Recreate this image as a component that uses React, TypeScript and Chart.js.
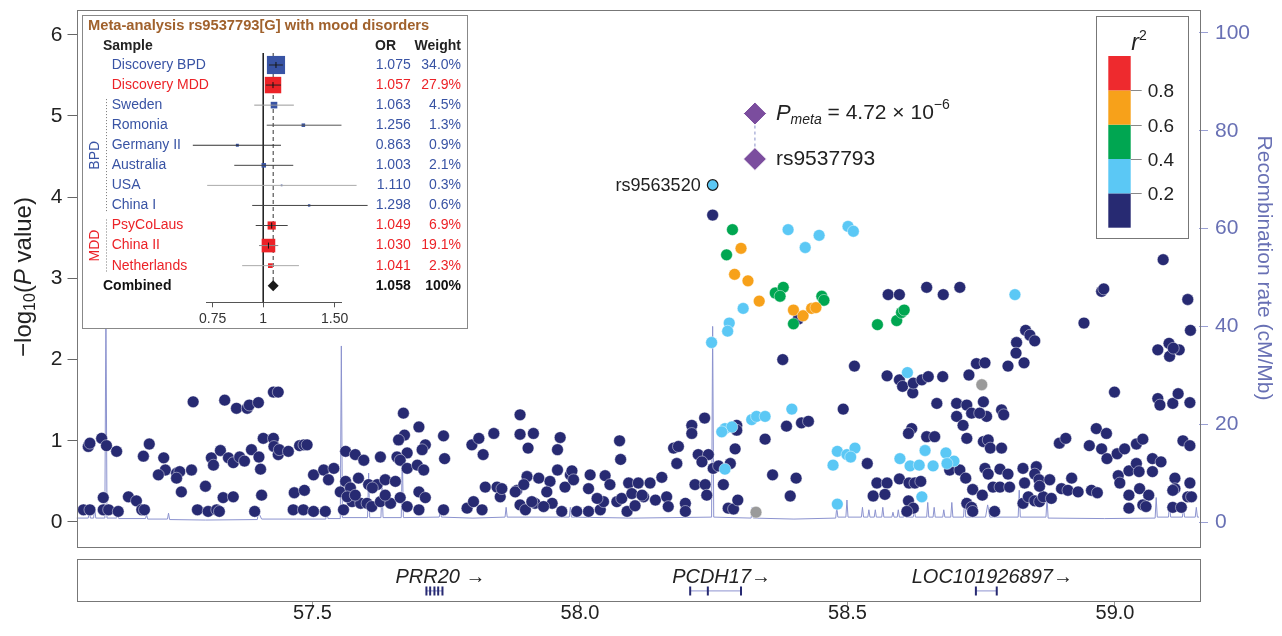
import React, { useEffect, useRef } from 'react';
import { Chart, registerables } from 'chart.js';
Chart.register(...registerables);

const FONT = "'Liberation Sans', Arial, Helvetica, sans-serif";
Chart.defaults.font.family = FONT;

// ---------- colours ----------
const NAVY = '#272a72', LBLUE = '#5bc8f5', GREEN = '#00a651', ORANGE = '#f7a11a', RED = '#ee2a2e', GRAY = '#9a9a9a', PURPLE = '#7b4d9e';
const RECOMB = '#8c93cf', RAXIS = '#6870b4';
const BPDC = '#3853a4', MDDC = '#ec2227';

// ---------- axes ----------
const XMIN = 57.059, XMAX = 59.157;
const leftTicks = [0, 1, 2, 3, 4, 5, 6];
const rightTicks = [0, 20, 40, 60, 80, 100];
const posTicks = [57.5, 58.0, 58.5, 59.0];

// ---------- association results: [position (Mb), -log10 P] ----------
const navyWest = [
  [57.072,0.15],[57.084,0.15],[57.109,0.15],[57.119,0.15],[57.137,0.13],
  [57.081,0.93],[57.084,0.97],[57.106,1.03],[57.115,0.94],[57.134,0.87],
  [57.109,0.30],[57.156,0.31],[57.171,0.26],[57.181,0.15],[57.186,0.15],
  [57.195,0.96],[57.184,0.81],[57.222,0.79],[57.225,0.64],[57.212,0.58],
  [57.246,0.60],[57.252,0.62],[57.246,0.54],[57.274,0.64],[57.255,0.37],
  [57.277,1.48],[57.285,0.15],[57.305,0.13],[57.321,0.15],[57.326,0.13],
  [57.300,0.44],[57.311,0.79],[57.315,0.70],[57.328,0.88],[57.343,0.79],
  [57.352,0.73],[57.364,0.80],[57.373,0.75],[57.386,0.89],[57.400,0.80],
  [57.403,0.65],[57.333,0.30],[57.352,0.31],[57.336,1.50],[57.358,1.40],
  [57.378,1.40],[57.382,1.44],[57.399,1.47],[57.427,1.60],[57.436,1.60],
  [57.392,0.13],[57.405,0.33],[57.408,1.03],[57.427,1.03],[57.428,0.93],
  [57.436,0.83],[57.438,0.89],[57.455,0.87],[57.476,0.94],[57.466,0.36],
  [57.464,0.15],[57.483,0.15],[57.485,0.39],
  [57.484,0.95],[57.490,0.95],[57.502,0.13],[57.524,0.13],[57.502,0.58],
  [57.521,0.64],[57.530,0.52],[57.540,0.66],[57.562,0.87],[57.580,0.83],
  [57.596,0.76],[57.627,0.80],[57.552,0.37],[57.562,0.50],[57.571,0.42],
  [57.586,0.54],[57.605,0.46],[57.621,0.46],[57.636,0.52],[57.655,0.50],
  [57.558,0.15],[57.574,0.25],[57.590,0.23],[57.602,0.23],[57.611,0.19],
  [57.627,0.25],[57.646,0.23],[57.664,0.30],[57.677,0.19],[57.699,0.37],
  [57.711,0.30],[57.699,0.15],[57.565,0.31],[57.580,0.33],[57.636,0.33],[57.612,0.42],
  [57.670,1.34],[57.672,1.07],[57.661,1.01],[57.699,1.17],[57.711,0.95],
  [57.705,0.89],[57.677,0.85],[57.658,0.80],[57.664,0.76],[57.677,0.66],
  [57.696,0.70],[57.708,0.64],[57.745,1.06],[57.747,0.78],[57.745,0.15],
];
const navyMid = [
  [57.798,0.95],[57.811,1.03],[57.819,0.83],[57.839,1.09],[57.789,0.17],
  [57.801,0.25],[57.823,0.43],[57.845,0.43],[57.851,0.31],[57.817,0.15],
  [57.888,1.32],[57.888,1.08],[57.903,0.91],[57.882,0.39],[57.888,0.21],
  [57.901,0.56],[57.898,0.15],[57.913,1.09],[57.963,1.04],[57.958,0.89],
  [58.074,1.00],[58.076,0.77],[57.958,0.64],[57.982,0.58],[57.985,0.63],
  [57.972,0.43],[57.988,0.52],[58.019,0.58],[58.047,0.57],[58.056,0.46],
  [58.016,0.41],[58.091,0.48],[58.109,0.48],[58.131,0.48],[58.153,0.55],
  [57.923,0.54],[57.944,0.50],[57.938,0.37],[57.879,0.37],[57.895,0.46],
  [57.854,0.41],[57.916,0.23],[57.948,0.23],[57.966,0.13],[57.994,0.13],
  [58.016,0.13],[58.038,0.15],[58.044,0.25],[58.069,0.25],[58.088,0.13],
  [58.103,0.20],[58.119,0.31],[58.141,0.27],[58.162,0.31],[58.165,0.19],
  [58.197,0.23],[58.197,0.13],
  [57.910,0.25],[57.932,0.19],[58.032,0.29],[58.078,0.29],[58.097,0.35],[58.116,0.33],
  [58.181,0.72],[58.175,0.91],[58.184,0.93],[58.209,1.19],[58.209,1.09],
  [58.233,1.28],[58.221,0.83],[58.240,0.83],[58.228,0.74],[58.249,0.66],
  [58.259,0.69],[58.215,0.46],[58.234,0.46],[58.237,0.33],[58.268,0.46],
  [58.277,0.17],[58.287,0.16],[58.295,0.27],[58.293,1.19],[58.293,1.13],
  [58.290,0.90],[58.281,0.72],[58.248,3.78],[58.379,2.00],[58.492,1.39],
  [58.386,1.18],[58.414,1.22],[58.427,1.24],[58.346,1.02],[58.360,0.58],
  [58.404,0.54],[58.393,0.32],[58.408,2.50],
];
const navyEast = [
  [58.576,2.80],[58.597,2.80],[58.648,2.89],[58.679,2.80],[58.710,2.89],
  [58.513,1.92],[58.574,1.80],[58.597,1.75],[58.603,1.67],[58.622,1.59],
  [58.623,1.71],[58.639,1.75],[58.651,1.79],[58.678,1.79],[58.727,1.81],
  [58.741,1.95],[58.667,1.46],[58.704,1.46],[58.723,1.44],[58.732,1.34],
  [58.704,1.30],[58.716,1.19],[58.723,1.03],[58.620,1.15],[58.614,1.09],
  [58.648,1.05],[58.663,1.05],[58.537,0.72],[58.691,0.64],[58.710,0.64],
  [58.721,0.54],[58.734,0.40],[58.555,0.48],[58.574,0.48],[58.597,0.53],
  [58.615,0.48],[58.626,0.48],[58.637,0.50],[58.548,0.32],[58.570,0.34],
  [58.614,0.26],[58.623,0.17],[58.611,0.13],[58.723,0.23],[58.732,0.18],
  [58.752,0.33],[58.734,0.13],[58.775,0.13],[58.772,0.43],[58.785,0.43],
  [58.803,0.43],[58.828,0.23],[58.838,0.31],[58.850,0.26],[58.859,0.25],
  [58.866,0.31],[58.881,0.29],
  [59.090,3.23],[58.975,2.84],[58.979,2.87],[59.136,2.74],[58.942,2.45],
  [59.141,2.36],[58.833,2.36],[58.841,2.30],[58.850,2.23],[58.816,2.21],
  [58.815,2.08],[58.800,1.92],[58.830,1.96],[58.757,1.96],[59.080,2.12],
  [59.101,2.20],[59.120,2.12],[59.102,2.04],[59.109,2.14],[58.999,1.60],
  [59.080,1.52],[59.084,1.44],[59.108,1.46],[59.118,1.58],[59.140,1.47],
  [58.754,1.48],[58.760,1.30],[58.788,1.38],[58.792,1.32],[58.747,1.34],
  [58.965,1.15],[58.984,1.09],[58.896,0.97],[58.908,1.03],[58.952,0.94],
  [58.975,0.90],[58.985,0.78],[59.004,0.84],[59.018,0.90],[59.040,0.96],
  [59.052,1.02],[59.127,1.00],[59.140,0.94],[59.070,0.78],[59.086,0.74],
  [58.754,0.99],[58.763,1.01],[58.767,0.91],[58.788,0.91],[58.757,0.66],
  [58.763,0.59],[58.785,0.65],[58.800,0.59],[58.828,0.66],[58.853,0.68],
  [58.850,0.59],[58.919,0.54],[58.831,0.48],[58.858,0.52],[58.878,0.52],
  [58.900,0.41],[58.859,0.44],[59.006,0.57],[59.009,0.48],[59.026,0.63],
  [59.040,0.72],[59.045,0.62],[59.070,0.62],[59.112,0.54],[59.112,0.41],
  [59.140,0.48],[59.136,0.31],[58.912,0.39],[58.931,0.37],[58.956,0.39],
  [58.967,0.36],[59.026,0.33],[59.046,0.41],[59.063,0.33],[59.108,0.39],
  [59.026,0.17],[59.052,0.21],[59.058,0.19],[59.108,0.18],[59.124,0.18],[59.143,0.31],
];
const lightBlueSnps = [
  [58.246,2.21],[58.279,2.45],[58.276,2.35],[58.305,2.63],[58.389,3.60],
  [58.447,3.53],[58.421,3.38],[58.501,3.64],[58.511,3.58],[58.271,1.15],
  [58.284,1.17],[58.265,1.11],[58.271,0.65],[58.321,1.26],[58.330,1.30],
  [58.346,1.30],[58.396,1.39],[58.481,0.87],[58.499,0.83],[58.473,0.70],
  [58.481,0.22],[58.514,0.91],[58.506,0.80],[58.612,1.84],[58.598,0.78],
  [58.645,0.88],[58.684,0.85],[58.699,0.75],[58.617,0.69],[58.634,0.70],
  [58.660,0.69],[58.686,0.72],[58.639,0.31],[58.813,2.80],
];
const greenSnps = [
  [58.285,3.60],[58.274,3.29],[58.365,2.82],[58.380,2.89],[58.374,2.78],
  [58.452,2.78],[58.456,2.73],[58.399,2.44],[58.556,2.43],[58.592,2.48],
  [58.601,2.58],[58.606,2.61],
];
const orangeSnps = [
  [58.301,3.37],[58.289,3.05],[58.314,2.97],[58.335,2.72],[58.399,2.61],
  [58.417,2.54],[58.433,2.63],[58.441,2.64],
];
const graySnps = [[58.329,0.12],[58.751,1.69]];
const labelledSnp = { name: 'rs9563520', pos: 58.248, logp: 4.15 };
const leadSnp = { name: 'rs9537793', pos: 58.327, discoveryLogp: 4.47, metaLogp: 5.03 };

// ---------- recombination rate: [position (Mb), cM/Mb] ----------
const recombWest = [
  [57.059,0.8],[57.081,0.8],[57.083,2.5],[57.085,0.8],[57.091,0.8],[57.093,3.0],[57.095,0.8],
  [57.112,0.8],[57.114,45],[57.116,0.8],[57.134,0.8],[57.136,2.0],[57.138,0.7],[57.188,0.7],
  [57.190,1.5],[57.192,0.6],[57.229,0.6],[57.231,1.8],[57.233,0.5],[57.300,0.4],[57.397,0.5],
  [57.399,2.0],[57.405,0.6],[57.470,0.6],[57.525,0.6],[57.527,2.5],[57.529,0.7],[57.552,0.7],
  [57.554,36],[57.556,0.9],[57.603,0.9],[57.605,10],[57.607,0.9],[57.628,0.9],[57.630,7],
  [57.632,0.9],[57.666,0.9],[57.668,14],[57.670,0.9],[57.737,1.0],[57.739,2.5],[57.741,1.0],
  [57.800,0.8],[57.860,1.0],[57.862,3.0],[57.864,1.0],[57.980,1.0],[57.982,3.0],[57.984,1.0],
  [58.100,0.8],[58.246,1.0],[58.248,40],[58.250,1.0],[58.320,0.8],[58.322,3.0],[58.324,0.8],
];
const recombEast = [
  [58.400,0.6],[58.478,0.8],[58.480,3.0],[58.482,1.0],[58.497,1.0],[58.499,4.5],[58.501,1.0],
  [58.526,1.0],[58.528,3.0],[58.530,1.0],[58.538,1.0],[58.540,2.5],[58.542,1.0],[58.550,1.0],
  [58.552,2.5],[58.554,1.0],[58.564,1.0],[58.566,3.0],[58.568,1.0],[58.583,1.0],[58.585,2.0],
  [58.587,1.0],[58.593,1.0],[58.595,2.5],[58.597,1.0],[58.605,1.0],[58.607,3.0],[58.609,1.0],
  [58.623,1.0],[58.625,2.5],[58.627,1.0],[58.648,1.0],[58.650,4.0],[58.652,1.0],[58.660,1.0],
  [58.662,3.0],[58.664,1.0],[58.678,1.0],[58.680,2.5],[58.682,1.0],[58.693,1.0],[58.695,4.0],
  [58.697,1.0],[58.717,1.0],[58.719,5.0],[58.721,1.0],[58.758,1.0],[58.762,3.5],[58.766,1.0],
  [58.819,1.0],[58.821,6.5],[58.823,1.0],[58.871,1.0],[58.873,5.0],[58.875,0.8],[58.980,0.7],
  [59.075,0.8],[59.077,5.0],[59.079,1.0],[59.100,1.0],[59.102,4.0],[59.104,1.0],[59.126,1.0],
  [59.128,3.0],[59.130,1.0],[59.150,1.0],[59.152,3.0],[59.154,1.0],[59.157,1.0],
];

// ---------- r2 legend ----------
const r2Colors = [NAVY, LBLUE, GREEN, ORANGE, RED];
const r2Labels = ['0.2', '0.4', '0.6', '0.8'];

// ---------- genes ----------
const geneNames = ['PRR20', 'PCDH17', 'LOC101926897'];
const geneLabels = ['PRR20 \u2192', 'PCDH17\u2192', 'LOC101926897\u2192'];
const geneStart = [57.713, 58.206, 58.740];
const geneEnd = [57.743, 58.301, 58.779];
const exonPos = [57.713, 57.720, 57.728, 57.735, 57.743, 58.206, 58.239, 58.301, 58.740, 58.779];

// ---------- forest plot ----------
const forestStudies = ['Discovery BPD','Discovery MDD','Sweden','Romonia','Germany II','Australia','USA','China I','PsyCoLaus','China II','Netherlands'];
const forestGroup = ['BPD','MDD','BPD','BPD','BPD','BPD','BPD','BPD','MDD','MDD','MDD'];
const forestOR = [1.075,1.057,1.063,1.256,0.863,1.003,1.110,1.298,1.049,1.030,1.041];
const forestWeight = [34.0,27.9,4.5,1.3,0.9,2.1,0.3,0.6,6.9,19.1,2.3];
const forestLo = [1.033,1.015,0.950,1.020,0.670,0.848,0.727,0.939,0.958,0.976,0.887];
const forestHi = [1.118,1.106,1.190,1.560,1.106,1.186,1.700,1.810,1.149,1.089,1.225];
const combinedOR = 1.058;
const combinedWeight = 100;
const forestTicks = [0.75, 1, 1.5];
const forestTickLabels = ['0.75', '1', '1.50'];
const ciColors = ['#222','#222','#9a9a9a','#555','#333','#444','#aaa','#444','#444','#888','#aaa'];

const toXY = (a: number[][]) => a.map(([x, y]) => ({ x, y }));

function drawRich(ctx: CanvasRenderingContext2D, segs: any[], x: number, y: number, align: string) {
  let total = 0;
  segs.forEach((s) => { ctx.font = s.font; total += ctx.measureText(s.t).width; });
  let cx = align === 'center' ? x - total / 2 : align === 'right' ? x - total : x;
  ctx.textAlign = 'left';
  ctx.textBaseline = 'middle';
  segs.forEach((s) => { ctx.font = s.font; ctx.fillStyle = s.color || ctx.fillStyle; ctx.fillText(s.t, cx, y + (s.dy || 0)); cx += ctx.measureText(s.t).width; });
}

function makeMain(canvas: HTMLCanvasElement) {
  const dot = (data: any[], color: string, order: number) => ({
    data: toXY(data), backgroundColor: color, borderColor: 'rgba(255,255,255,0.75)', borderWidth: 0.6,
    pointRadius: 5.9, order,
  });
  const mainPlugin = {
    id: 'mainDecor',
    afterDraw(chart: any) {
      const { ctx, chartArea: a, scales } = chart;
      const xs = scales.x, ys = scales.y;
      ctx.save();
      ctx.strokeStyle = '#777'; ctx.lineWidth = 1;
      ctx.strokeRect(Math.round(a.left) + 0.5, Math.round(a.top) + 0.5, Math.round(a.right - a.left), Math.round(a.bottom - a.top));
      ctx.save();
      ctx.translate(24, 277); ctx.rotate(-Math.PI / 2);
      ctx.fillStyle = '#222';
      drawRich(ctx, [
        { t: '\u2212log', font: `24px ${FONT}` },
        { t: '10', font: `16px ${FONT}`, dy: 7 },
        { t: '(', font: `24px ${FONT}` },
        { t: 'P', font: `italic 24px ${FONT}` },
        { t: ' value)', font: `24px ${FONT}` },
      ], 0, 0, 'center');
      ctx.restore();
      ctx.save();
      ctx.translate(1264, 268); ctx.rotate(Math.PI / 2);
      ctx.fillStyle = RAXIS;
      drawRich(ctx, [{ t: 'Recombination rate (cM/Mb)', font: `21px ${FONT}` }], 0, 0, 'center');
      ctx.restore();
      ctx.fillStyle = '#222';
      drawRich(ctx, [{ t: labelledSnp.name, font: `18px ${FONT}` }], xs.getPixelForValue(labelledSnp.pos) - 12, ys.getPixelForValue(labelledSnp.logp) + 1, 'right');
      const lx = xs.getPixelForValue(leadSnp.pos) + 21;
      drawRich(ctx, [
        { t: 'P', font: `italic 22px ${FONT}` },
        { t: 'meta', font: `italic 14px ${FONT}`, dy: 7 },
        { t: ' = 4.72 \u00d7 10', font: `21px ${FONT}` },
        { t: '\u22126', font: `14px ${FONT}`, dy: -8 },
      ], lx, ys.getPixelForValue(leadSnp.metaLogp), 'left');
      drawRich(ctx, [{ t: leadSnp.name, font: `21px ${FONT}` }], lx, ys.getPixelForValue(leadSnp.discoveryLogp), 'left');
      // r2 legend
      const bx = 1096, by = 16, bw = 92, bh = 222;
      ctx.fillStyle = '#fff'; ctx.fillRect(bx, by, bw, bh);
      ctx.strokeStyle = '#777'; ctx.strokeRect(bx + 0.5, by + 0.5, bw, bh);
      ctx.fillStyle = '#222';
      drawRich(ctx, [
        { t: 'r', font: `italic 23px ${FONT}` },
        { t: '2', font: `14px ${FONT}`, dy: -8 },
      ], 1139, 44, 'center');
      const barTop = 56, barBot = 227.7, barL = 1108.3, barR = 1130.7;
      const segH = (barBot - barTop) / r2Colors.length;
      r2Colors.forEach((c, i) => {
        ctx.fillStyle = c;
        ctx.fillRect(barL, barBot - (i + 1) * segH, barR - barL, segH);
      });
      ctx.strokeStyle = '#888'; ctx.lineWidth = 1;
      r2Labels.forEach((lab, i) => {
        const yy = Math.round(barBot - (i + 1) * segH) + 0.5;
        ctx.beginPath(); ctx.moveTo(barR, yy); ctx.lineTo(barR + 11, yy); ctx.stroke();
        ctx.fillStyle = '#222';
        drawRich(ctx, [{ t: lab, font: `19px ${FONT}` }], barR + 17, yy + 1, 'left');
      });
      ctx.restore();
    },
  };
  return new Chart(canvas, {
    type: 'scatter',
    data: {
      datasets: [
        { type: 'line', data: toXY([...recombWest, ...recombEast]), yAxisID: 'y2', borderColor: RECOMB, borderWidth: 1, pointRadius: 0, tension: 0, order: 10 },
        dot([...navyWest, ...navyMid, ...navyEast], NAVY, 7),
        dot(graySnps, GRAY, 6),
        dot(lightBlueSnps, LBLUE, 5),
        dot(greenSnps, GREEN, 4),
        dot(orangeSnps, ORANGE, 3),
        { data: [{ x: labelledSnp.pos, y: labelledSnp.logp }], backgroundColor: LBLUE, borderColor: '#1a1a1a', borderWidth: 1.2, pointRadius: 5.3, order: 2 },
        { type: 'line', data: [{ x: leadSnp.pos, y: leadSnp.metaLogp }, { x: leadSnp.pos, y: leadSnp.discoveryLogp }], borderColor: '#8890c8', borderDash: [3, 3], borderWidth: 1, pointRadius: 0, order: 2 },
        { data: [{ x: leadSnp.pos, y: leadSnp.metaLogp }, { x: leadSnp.pos, y: leadSnp.discoveryLogp }], pointStyle: 'rectRot', pointRadius: 11.5, backgroundColor: PURPLE, borderColor: '#fff', borderWidth: 1, order: 1 },
      ],
    },
    options: {
      animation: false, responsive: false, events: [],
      layout: { autoPadding: false, padding: { top: 10, bottom: 5.5, left: 0, right: 0 } },
      plugins: { legend: { display: false }, tooltip: { enabled: false } },
      scales: {
        x: { type: 'linear', min: XMIN, max: XMAX, display: false },
        y: {
          position: 'left', min: -0.302, max: 6.305,
          afterBuildTicks: (s: any) => { s.ticks = leftTicks.map((v) => ({ value: v })); },
          afterFit: (s: any) => { s.width = 76.5; s.paddingTop = 0; s.paddingBottom = 0; },
          ticks: { font: { family: FONT, size: 21, lineHeight: 0.4 }, color: '#222', padding: 5 },
          grid: { drawOnChartArea: false, tickLength: 9, color: '#666' },
          border: { display: false },
        },
        y2: {
          position: 'right', min: -5.01, max: 104.7,
          afterBuildTicks: (s: any) => { s.ticks = rightTicks.map((v) => ({ value: v })); },
          afterFit: (s: any) => { s.width = 83; s.paddingTop = 0; s.paddingBottom = 0; },
          ticks: { font: { family: FONT, size: 21, lineHeight: 0.4 }, color: RAXIS, padding: 7 },
          grid: { drawOnChartArea: false, tickLength: 9, color: '#9aa0d4' },
          border: { display: false },
        },
      },
    } as any,
    plugins: [mainPlugin],
  } as any);
}

function makeGene(canvas: HTMLCanvasElement) {
  const genePlugin = {
    id: 'geneDecor',
    afterDraw(chart: any) {
      const { ctx, chartArea: a, scales } = chart;
      ctx.save();
      ctx.strokeStyle = '#777'; ctx.lineWidth = 1;
      ctx.strokeRect(Math.round(a.left) + 0.5, Math.round(a.top) + 0.5, Math.round(a.right - a.left), Math.round(a.bottom - a.top));
      ctx.fillStyle = '#222';
      geneNames.forEach((_, i) => {
        const cx = scales.x.getPixelForValue((geneStart[i] + geneEnd[i]) / 2) + 6;
        drawRich(ctx, [{ t: geneLabels[i], font: `italic 20px ${FONT}` }], cx, 25, 'center');
      });
      ctx.restore();
    },
  };
  const geneY = 0.24;
  return new Chart(canvas, {
    type: 'scatter',
    data: {
      datasets: [
        ...geneNames.map((_, i) => ({
          type: 'line', data: [{ x: geneStart[i], y: geneY }, { x: geneEnd[i], y: geneY }],
          borderColor: '#a4a8da', borderWidth: 1.3, pointRadius: 0, order: 2,
        })),
        {
          data: exonPos.map((p) => ({ x: p, y: geneY })), pointStyle: 'line', pointRotation: 90,
          pointRadius: 4.5, borderColor: NAVY, backgroundColor: NAVY, borderWidth: 2, order: 1,
        },
      ],
    },
    options: {
      animation: false, responsive: false, events: [],
      layout: { autoPadding: false, padding: { top: 7, bottom: 0, left: 76.5, right: 83 } },
      plugins: { legend: { display: false }, tooltip: { enabled: false } },
      scales: {
        x: {
          type: 'linear', min: XMIN, max: XMAX,
          afterBuildTicks: (s: any) => { s.ticks = posTicks.map((v) => ({ value: v })); },
          afterFit: (s: any) => { s.height = 35; s.paddingLeft = 0; s.paddingRight = 0; },
          ticks: { font: { family: FONT, size: 20 }, color: '#222', padding: -6, callback: (v: number) => Number(v).toFixed(1), maxRotation: 0 },
          grid: { drawOnChartArea: false, tickLength: 6, color: '#999' },
          border: { display: false },
        },
        y: { min: 0, max: 1, display: false },
      },
    } as any,
    plugins: [genePlugin],
  } as any);
}

function makeForest(canvas: HTMLCanvasElement) {
  const W = 386, H = 314;
  const groupColor = (g: string) => (g === 'BPD' ? BPDC : MDDC);
  const forestPlugin = {
    id: 'forestDecor',
    beforeDraw(chart: any) {
      const { ctx } = chart;
      ctx.save();
      ctx.fillStyle = '#fff'; ctx.fillRect(0, 0, W, H);
      ctx.strokeStyle = '#888'; ctx.lineWidth = 1; ctx.strokeRect(0.5, 0.5, W - 1, H - 1);
      ctx.restore();
    },
    afterDraw(chart: any) {
      const { ctx, scales } = chart;
      const yp = (v: number) => scales.y.getPixelForValue(v);
      ctx.save();
      ctx.fillStyle = '#a0612c';
      drawRich(ctx, [{ t: 'Meta-analysis rs9537793[G] with mood disorders', font: `bold 14.7px ${FONT}` }], 6, 11, 'left');
      ctx.fillStyle = '#222';
      const hy = yp(-0.95);
      drawRich(ctx, [{ t: 'Sample', font: `bold 14px ${FONT}` }], 21, hy, 'left');
      drawRich(ctx, [{ t: 'OR', font: `bold 14px ${FONT}` }], 293, hy, 'left');
      drawRich(ctx, [{ t: 'Weight', font: `bold 14px ${FONT}` }], 379, hy, 'right');
      forestStudies.forEach((name, i) => {
        ctx.fillStyle = groupColor(forestGroup[i]);
        const y = yp(i);
        drawRich(ctx, [{ t: name, font: `14px ${FONT}` }], 29.7, y, 'left');
        drawRich(ctx, [{ t: forestOR[i].toFixed(3), font: `14px ${FONT}` }], 328.7, y, 'right');
        drawRich(ctx, [{ t: forestWeight[i].toFixed(1) + '%', font: `14px ${FONT}` }], 379, y, 'right');
      });
      const cy = yp(forestStudies.length);
      ctx.fillStyle = '#111';
      drawRich(ctx, [{ t: 'Combined', font: `bold 14px ${FONT}` }], 21, cy, 'left');
      drawRich(ctx, [{ t: combinedOR.toFixed(3), font: `bold 14px ${FONT}` }], 328.7, cy, 'right');
      drawRich(ctx, [{ t: combinedWeight + '%', font: `bold 14px ${FONT}` }], 379, cy, 'right');
      const groups = [
        { g: 'BPD', first: 2, last: 7 },
        { g: 'MDD', first: 8, last: 10 },
      ];
      groups.forEach(({ g, first, last }) => {
        ctx.strokeStyle = '#777'; ctx.lineWidth = 1; ctx.setLineDash([1, 2]);
        ctx.beginPath(); ctx.moveTo(24.5, yp(first - 0.3)); ctx.lineTo(24.5, yp(last + 0.3)); ctx.stroke();
        ctx.setLineDash([]);
        ctx.save();
        ctx.translate(13, (yp(first) + yp(last)) / 2); ctx.rotate(-Math.PI / 2);
        ctx.fillStyle = groupColor(g);
        drawRich(ctx, [{ t: g, font: `14px ${FONT}` }], 0, 0, 'center');
        ctx.restore();
      });
      ctx.restore();
    },
  };
  const YMIN = -0.598, YMAX = 11.827;
  const datasets: any[] = [
    { type: 'line', data: [{ x: 1, y: YMIN }, { x: 1, y: YMAX }], borderColor: '#222', borderWidth: 1, pointRadius: 0, order: 5 },
    { type: 'line', data: [{ x: combinedOR, y: YMIN }, { x: combinedOR, y: forestStudies.length + 0.2 }], borderColor: '#333', borderWidth: 1, borderDash: [4, 3], pointRadius: 0, order: 5 },
    {
      data: forestOR.map((v, i) => ({ x: v, y: i })), pointStyle: 'rect',
      pointRadius: (c: any) => 2.2 * Math.sqrt(forestWeight[c.dataIndex] || 0),
      backgroundColor: forestGroup.map(groupColor), borderWidth: 0, order: 3, clip: false,
    },
    ...forestStudies.map((_, i) => ({
      type: 'line', data: [{ x: forestLo[i], y: i }, { x: forestHi[i], y: i }],
      borderColor: ciColors[i], borderWidth: 1, pointRadius: 0, order: 2, clip: false,
    })),
    {
      data: forestOR.map((v, i) => ({ x: v, y: i })).filter((_, i) => forestWeight[i] > 5),
      pointStyle: 'line', pointRotation: 90, pointRadius: 3, borderColor: '#111', borderWidth: 1, order: 1,
    },
    { data: [{ x: combinedOR, y: forestStudies.length }], pointStyle: 'rectRot', pointRadius: 5.5, backgroundColor: '#1a1a1a', borderWidth: 0, order: 1 },
  ];
  return new Chart(canvas, {
    type: 'scatter',
    data: { datasets },
    options: {
      animation: false, responsive: false, events: [],
      layout: { autoPadding: false, padding: { top: 38, bottom: 0, left: 124.7, right: 126.3 } },
      plugins: { legend: { display: false }, tooltip: { enabled: false } },
      scales: {
        x: {
          type: 'logarithmic', min: 0.725, max: 1.562,
          afterBuildTicks: (s: any) => { s.ticks = forestTicks.map((v) => ({ value: v })); },
          afterFit: (s: any) => { s.height = 26.7; s.paddingLeft = 0; s.paddingRight = 0; },
          ticks: { font: { family: FONT, size: 14 }, color: '#333', padding: 3, autoSkip: false, maxRotation: 0, callback: (_v: any, idx: number) => forestTickLabels[idx] },
          grid: { drawOnChartArea: false, tickLength: 5, color: '#555' },
          border: { display: true, color: '#555' },
        },
        y: { type: 'linear', reverse: true, min: YMIN, max: YMAX, display: false },
      },
    } as any,
    plugins: [forestPlugin],
  } as any);
}

export default function App() {
  const mainRef = useRef<HTMLCanvasElement>(null);
  const geneRef = useRef<HTMLCanvasElement>(null);
  const forestRef = useRef<HTMLCanvasElement>(null);
  useEffect(() => {
    const charts = [
      makeMain(mainRef.current as HTMLCanvasElement),
      makeGene(geneRef.current as HTMLCanvasElement),
      makeForest(forestRef.current as HTMLCanvasElement),
    ];
    return () => charts.forEach((c) => c.destroy());
  }, []);
  return (
    <div style={{ position: 'absolute', left: 0, top: 0, width: 1282, height: 636, background: '#fff', overflow: 'hidden' }}>
      <canvas ref={mainRef} width={1282} height={552} style={{ position: 'absolute', left: 0, top: 0, width: 1282, height: 552 }} />
      <canvas ref={geneRef} width={1282} height={84} style={{ position: 'absolute', left: 0, top: 552, width: 1282, height: 84 }} />
      <canvas ref={forestRef} width={386} height={314} style={{ position: 'absolute', left: 82, top: 15, width: 386, height: 314 }} />
    </div>
  );
}
